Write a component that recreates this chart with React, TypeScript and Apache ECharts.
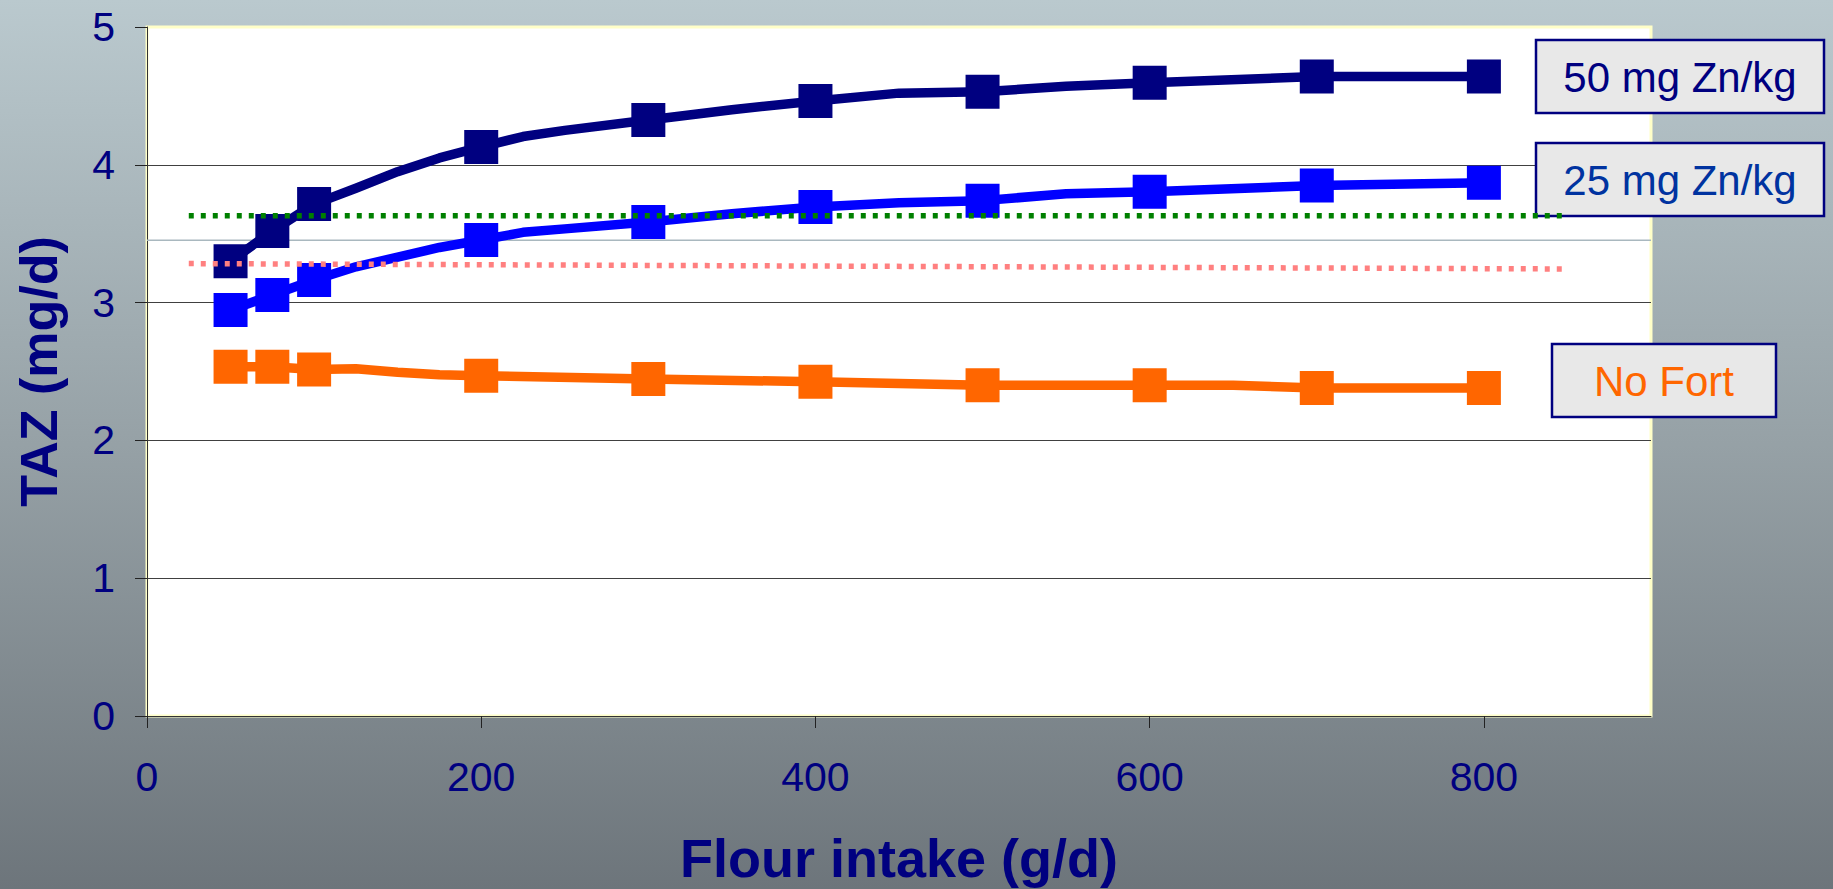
import React, { useEffect, useRef } from "react";
import * as echarts from "echarts";

// Flour intake (g/d) points where markers are drawn
const markerX = [50, 75, 100, 200, 300, 400, 500, 600, 700, 800];

// 50 mg Zn/kg
const zn50X = [50, 75, 100, 125, 150, 175, 200, 225, 250, 300, 350, 400, 450, 500, 550, 600, 700, 800];
const zn50Y = [3.3, 3.52, 3.715, 3.83, 3.95, 4.05, 4.13, 4.205, 4.25, 4.325, 4.4, 4.463, 4.52, 4.53, 4.57, 4.596, 4.64, 4.64];

// 25 mg Zn/kg
const zn25X = [50, 75, 100, 125, 150, 175, 200, 225, 250, 300, 350, 400, 450, 500, 550, 600, 700, 800];
const zn25Y = [2.946, 3.055, 3.164, 3.26, 3.33, 3.4, 3.454, 3.51, 3.535, 3.585, 3.645, 3.694, 3.725, 3.74, 3.79, 3.805, 3.85, 3.87];

// No Fort
const noFortX = [50, 75, 100, 125, 150, 175, 200, 300, 400, 500, 600, 650, 700, 800];
const noFortY = [2.535, 2.535, 2.515, 2.52, 2.495, 2.477, 2.47, 2.445, 2.426, 2.4, 2.4, 2.4, 2.38, 2.38];

// Reference lines
const greenRefX = [25, 850];
const greenRefY = [3.63, 3.63];
const pinkRefX = [25, 850];
const pinkRefY = [3.283, 3.244];
const greyRefX = [0, 900];
const greyRefY = [3.452, 3.452];

const xTicks = [0, 200, 400, 600, 800];
const seriesNames = ["50 mg Zn/kg", "25 mg Zn/kg", "No Fort"];

const FONT = "'Liberation Sans', Arial, sans-serif";

function pairs(xs: number[], ys: number[]) {
  return xs.map((x, i) => [x, ys[i]]);
}

function markedData(xs: number[], ys: number[]) {
  return xs.map((x, i) => ({
    value: [x, ys[i]],
    symbol: markerX.includes(x) ? "rect" : "none",
  }));
}

export default function App() {
  const ref = useRef<HTMLDivElement>(null);

  useEffect(() => {
    if (!ref.current) return;
    const chart = echarts.init(ref.current, undefined, { renderer: "svg" });

    const mainSeries = (name: string, xs: number[], ys: number[], color: string) => ({
      name,
      type: "line",
      data: markedData(xs, ys),
      symbolSize: 34,
      showSymbol: true,
      showAllSymbol: true,
      smooth: false,
      z: 3,
      lineStyle: { color, width: 9.5, cap: "butt", join: "round" },
      itemStyle: { color, borderWidth: 0 },
    });

    const refSeries = (xs: number[], ys: number[], color: string, dash: any, width: number, z: number) => ({
      type: "line",
      data: pairs(xs, ys),
      symbol: "none",
      silent: true,
      z,
      lineStyle: { color, width, type: dash, cap: "butt" },
    });

    const box = (x: number, y: number, w: number, h: number, text: string, color: string) => ({
      type: "group",
      z: 1,
      children: [
        {
          type: "rect",
          z: 1,
          shape: { x, y, width: w, height: h },
          style: { fill: "#e8e8e8", stroke: "#000080", lineWidth: 2.5 },
        },
        {
          type: "text",
          z: 1,
          x: x + w / 2,
          y: y + h / 2 + 1,
          style: {
            text,
            fill: color,
            font: `42px ${FONT}`,
            textAlign: "center",
            textVerticalAlign: "middle",
          },
        },
      ],
    });

    chart.setOption({
      animation: false,
      backgroundColor: new echarts.graphic.LinearGradient(0, 0, 0, 1, [
        { offset: 0, color: "#bac9ce" },
        { offset: 0.5, color: "#96a1a6" },
        { offset: 1, color: "#6d757b" },
      ]),
      grid: {
        left: 147,
        right: 182,
        top: 27,
        bottom: 173,
        show: true,
        backgroundColor: "#ffffff",
        borderColor: "#ffffc8",
        borderWidth: 3,
        containLabel: false,
        outerBoundsMode: "none",
      },
      xAxis: {
        type: "value",
        min: 0,
        max: 900,
        interval: 200,
        name: "Flour intake (g/d)",
        nameLocation: "middle",
        nameGap: 115,
        nameTextStyle: { fontSize: 54, fontWeight: "bold", color: "#000080", fontFamily: FONT },
        axisLine: { show: true, lineStyle: { color: "#333333", width: 1 } },
        axisTick: { show: true, inside: false, length: 12, lineStyle: { color: "#222222", width: 1 }, customValues: xTicks },
        axisLabel: {
          show: true,
          margin: 40,
          fontSize: 41,
          color: "#000080",
          fontFamily: FONT,
          customValues: xTicks,
        },
        splitLine: { show: false },
      },
      yAxis: {
        type: "value",
        min: 0,
        max: 5,
        interval: 1,
        name: "TAZ (mg/d)",
        nameLocation: "middle",
        nameGap: 82,
        nameTextStyle: { fontSize: 52, fontWeight: "bold", color: "#000080", fontFamily: FONT },
        axisLine: { show: true, lineStyle: { color: "#333333", width: 1 } },
        axisTick: { show: true, inside: false, length: 12, lineStyle: { color: "#222222", width: 1 } },
        axisLabel: { show: true, margin: 32, fontSize: 41, color: "#000080", fontFamily: FONT },
        splitLine: { show: true, showMinLine: false, showMaxLine: false, lineStyle: { color: "#404040", width: 1 } },
      },
      series: [
        refSeries(greyRefX, greyRefY, "#a9b8bf", "solid", 1.5, 2),
        mainSeries(seriesNames[0], zn50X, zn50Y, "#000080"),
        mainSeries(seriesNames[1], zn25X, zn25Y, "#0000ff"),
        mainSeries(seriesNames[2], noFortX, noFortY, "#ff6600"),
        refSeries(greenRefX, greenRefY, "#008000", [5, 7], 5.5, 5),
        refSeries(pinkRefX, pinkRefY, "#ff8080", [5, 7], 5.5, 5),
      ],
      graphic: [
        box(1536, 40, 288, 73, seriesNames[0], "#000080"),
        box(1536, 143, 288, 73, seriesNames[1], "#0033a0"),
        box(1552, 344, 224, 73, seriesNames[2], "#ff6600"),
      ],
    });

    return () => chart.dispose();
  }, []);

  return (
    <div
      ref={ref}
      style={{ position: "fixed", left: 0, top: 0, width: 1833, height: 889 }}
    />
  );
}
